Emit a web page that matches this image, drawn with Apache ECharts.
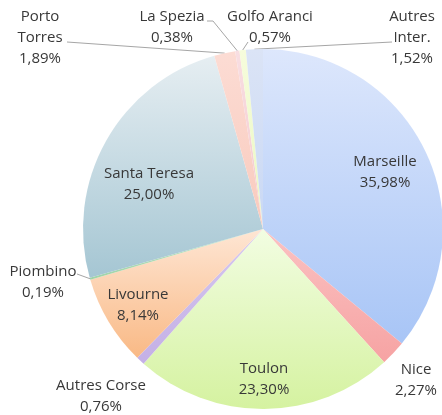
<!DOCTYPE html>
<html><head><meta charset="utf-8">
<script src="https://cdn.jsdelivr.net/npm/echarts@6/dist/echarts.min.js"></script>
<style>html,body{margin:0;padding:0;background:#fff}#c{width:442px;height:415px}</style>
</head><body><div id="c"></div>
<script>
// ---- data ----
const categories = ['Marseille','Nice','Toulon','Autres Corse','Livourne','Piombino','Santa Teresa','Porto Torres','La Spezia','Golfo Aranci','Autres Inter.'];
const labelNames = ['Marseille','Nice','Toulon','Autres Corse','Livourne','Piombino','Santa Teresa','Porto\nTorres','La Spezia','Golfo Aranci','Autres\nInter.'];
const values = [35.98,2.27,23.30,0.76,8.14,0.19,25.00,1.89,0.38,0.57,1.52];

// ---- styles / layout ----
const topColors    = ['#dde7fc','#fbc2c2','#f2fde2','#d6c8ee','#fee6d4','#c5e6c8','#e6eef2','#fcdcd4','#f8dee2','#f6fcdc','#dbe4f6'];
const bottomColors = ['#a8c5f6','#f6a3a3','#d5f2a0','#c4b0e6','#f9b985','#9fd3a8','#a5c6d3','#f9cabd','#f4c9ce','#eaf8c0','#c9d8f4'];
const outside  = [false,true,false,true,false,true,false,true,true,true,true];
const showLine = [false,false,false,false,false,true,false,true,true,true,true];
const labelPos = [[385,172],[416,380],[264,379],[101,396],[138,305],[43,282],[149,184],[40,38],[172,27],[270,27],[412,38]];
const leaderEnd = [null,null,null,null,null,[[77,274]],null,[[67,42]],[[213,21],[207,21]],[[248,42]],[[392,42]]];

const fmt = v => v.toFixed(2).replace('.', ',') + '%';

const chart = echarts.init(document.getElementById('c'), null, {renderer:'canvas'});
chart.setOption({
  animation: false,
  backgroundColor: '#ffffff',
  series: [{
    type: 'pie',
    center: [263, 229],
    radius: 180,
    startAngle: 90,
    clockwise: true,
    avoidLabelOverlap: false,
    emphasis: {disabled: true},
    label: {
      show: true,
      fontFamily: 'Open Sans',
      fontSize: 15,
      lineHeight: 21,
      color: '#383838',
      align: 'center',
      formatter: p => labelNames[p.dataIndex] + '\n' + fmt(values[p.dataIndex])
    },
    labelLine: {lineStyle: {color: '#a6a6a6', width: 1}},
    labelLayout: function (params) {
      const i = params.dataIndex;
      const res = {x: labelPos[i][0], y: labelPos[i][1], align: 'center', verticalAlign: 'middle'};
      if (showLine[i] && params.labelLinePoints) {
        res.labelLinePoints = [params.labelLinePoints[0]].concat(leaderEnd[i]);
      }
      return res;
    },
    data: categories.map((name, i) => ({
      name: name,
      value: values[i],
      itemStyle: {color: {type:'linear', x:0, y:0, x2:0, y2:1,
        colorStops:[{offset:0,color:topColors[i]},{offset:1,color:bottomColors[i]}]}},
      label: {position: outside[i] ? 'outside' : 'inside'},
      labelLine: {show: showLine[i], length: 5, length2: 5}
    }))
  }]
});
</script>
</body></html>
